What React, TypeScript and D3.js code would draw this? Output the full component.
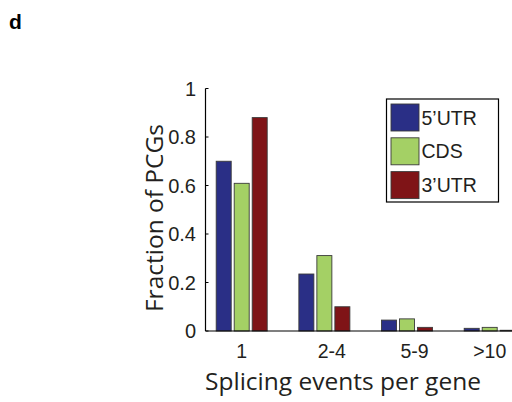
import React, { useEffect, useRef } from 'react';
import * as d3 from 'd3';

// categories on the x axis
const categories = ['1', '2-4', '5-9', '>10'];
const seriesNames = ["5\u2019UTR", 'CDS', "3\u2019UTR"];
const seriesColors = ['#2a2f86', '#a4d065', '#7f1417'];
// fraction of PCGs per series, one value per category
const utr5 = [0.70, 0.235, 0.045, 0.011];
const cds = [0.609, 0.311, 0.05, 0.015];
const utr3 = [0.88, 0.10, 0.015, 0.003];
const yTicks = [0, 0.2, 0.4, 0.6, 0.8, 1];

const W = 512;
const H = 402;

const App = () => {
  const svgRef = useRef<SVGSVGElement>(null);

  useEffect(() => {
    const svg = d3.select(svgRef.current);
    svg.selectAll('*').remove();

    const series = [utr5, cds, utr3];
    const axisX = 205.5;
    const font = 'Liberation Sans, Arial, sans-serif';
    const labelFont = '"Open Sans", "Noto Sans", sans-serif';

    const y = d3.scaleLinear().domain([0, 1]).range([331, 88.5]);
    // group centres, matlab-style bar groups
    const x = d3.scaleLinear().domain([0, 3]).range([241.7, 489.7]);
    const barW = 15;
    const barStep = 18;

    // panel letter
    svg.append('text')
      .attr('x', 9).attr('y', 29)
      .style('font-family', font)
      .style('font-weight', 'bold')
      .style('font-size', '21px')
      .text('d');

    // bars
    series.forEach((vals, s) => {
      svg.append('g')
        .selectAll('rect')
        .data(vals)
        .enter()
        .append('rect')
        .attr('x', (d, i) => x(i) + (s - 1) * barStep - barW / 2)
        .attr('y', d => y(d))
        .attr('width', barW)
        .attr('height', d => y(0) - y(d))
        .attr('fill', seriesColors[s])
        .attr('stroke', '#3a3a3a')
        .attr('stroke-width', 0.9);
    });

    // axes
    svg.append('line')
      .attr('x1', axisX).attr('x2', axisX)
      .attr('y1', y(1)).attr('y2', y(0))
      .attr('stroke', '#000').attr('stroke-width', 1.2);
    svg.append('line')
      .attr('x1', axisX).attr('x2', W)
      .attr('y1', y(0)).attr('y2', y(0))
      .attr('stroke', '#000').attr('stroke-width', 1.2);

    // y ticks (inward) + labels
    const yt = svg.append('g');
    yt.selectAll('line')
      .data(yTicks)
      .enter()
      .append('line')
      .attr('x1', axisX).attr('x2', axisX + 3)
      .attr('y1', d => y(d)).attr('y2', d => y(d))
      .attr('stroke', '#000');
    yt.selectAll('text')
      .data(yTicks)
      .enter()
      .append('text')
      .attr('x', 196)
      .attr('y', d => y(d) + 7)
      .attr('text-anchor', 'end')
      .style('font-family', font)
      .style('font-size', '20px')
      .style('fill', '#231f20')
      .text(d => d3.format('~g')(d));

    // x tick labels (middle two sit a little right of their groups in the original)
    svg.append('g')
      .selectAll('text')
      .data(categories)
      .enter()
      .append('text')
      .attr('x', (d, i) => x(i) + (i === 1 || i === 2 ? 7.5 : 0))
      .attr('y', 358)
      .attr('text-anchor', 'middle')
      .style('font-family', font)
      .style('font-size', '19.5px')
      .style('fill', '#231f20')
      .text(d => d);

    // axis titles
    svg.append('text')
      .attr('x', 343)
      .attr('y', 390)
      .attr('text-anchor', 'middle')
      .style('font-family', labelFont)
      .style('font-size', '24.5px')
      .style('fill', '#231f20')
      .text('Splicing events per gene');

    svg.append('text')
      .attr('transform', `translate(163, 218) rotate(-90)`)
      .attr('text-anchor', 'middle')
      .style('font-family', labelFont)
      .style('font-size', '24.5px')
      .style('fill', '#231f20')
      .text('Fraction of PCGs');

    // legend
    const lg = svg.append('g');
    lg.append('rect')
      .attr('x', 386.5).attr('y', 99)
      .attr('width', 112).attr('height', 103)
      .attr('fill', '#fff')
      .attr('stroke', '#000').attr('stroke-width', 1.2);
    seriesNames.forEach((name, s) => {
      const top = 104 + s * 33.8;
      lg.append('rect')
        .attr('x', 391).attr('y', top)
        .attr('width', 28).attr('height', 27)
        .attr('fill', seriesColors[s])
        .attr('stroke', '#3a3a3a').attr('stroke-width', 0.9);
      lg.append('text')
        .attr('x', 421.5).attr('y', top + 20.5)
        .style('font-family', font)
        .style('font-size', '19.5px')
        .style('fill', '#231f20')
        .text(name);
    });
  }, []);

  return (
    <svg ref={svgRef} width={W} height={H}
      style={{ position: 'absolute', left: 0, top: 0, background: '#fff' }} />
  );
};

export default App;
